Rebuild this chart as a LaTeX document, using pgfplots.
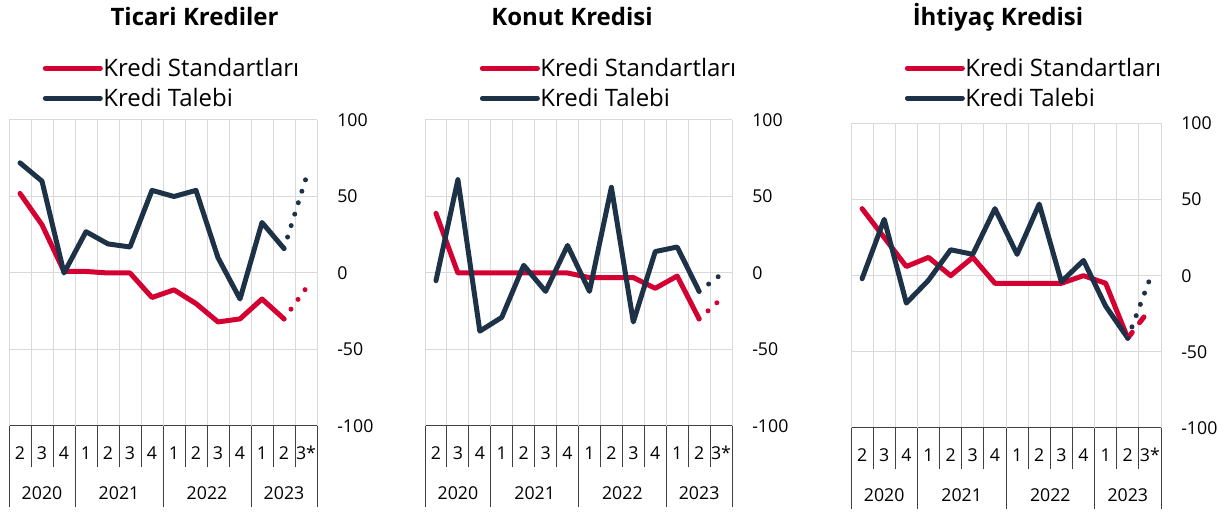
\documentclass[border=0pt]{standalone}
\usepackage{pgfplots}
\pgfplotsset{compat=1.18}
\usepackage{fontspec}
\setmainfont{Open Sans}
\definecolor{kred}{HTML}{D50032}
\definecolor{knavy}{HTML}{1E3247}
\definecolor{kgrid}{HTML}{D9D9D9}
\definecolor{kaxis}{HTML}{404040}

\pgfplotsset{
  kpanel/.style={
    scale only axis,
    xmin=-0.5, xmax=13.5, ymin=-100, ymax=100,
    axis x line*=bottom, axis y line*=right,
    x axis line style={-, kaxis, line width=0.75pt},
    y axis line style={draw=none},
    xtick={-0.5,0.5,...,13.5},
    x tick label as interval,
    xticklabels={2,3,4,1,2,3,4,1,2,3,4,1,2,3*},
    xmajorgrids, ymajorgrids,
    grid style={kgrid, line width=0.75pt},
    ytick={-100,-50,0,50,100},
    yticklabels={-100,-50,0,50,100},
    tick align=outside,
    major tick length=30.75pt,
    xtick style={kaxis, line width=0.75pt},
    ytick style={draw=none},
    ticklabel style={font=\fontsize{13.3}{15}\selectfont},
    xticklabel style={anchor=center, yshift=10.5pt},
    yticklabel style={anchor=west, inner sep=0pt, xshift=-15.75pt},
    extra x ticks={-0.5,2.5,6.5,10.5,13.5},
    extra x tick labels={},
    extra x tick style={major tick length=60.75pt},
    clip=false,
    legend cell align=left,
    legend style={draw=none, fill=none, inner sep=0pt, column sep=0.4pt, row sep=0pt,
      font=\fontsize{18}{21}\selectfont,
      nodes={inner sep=0pt, text height=17.25pt, text depth=5.25pt}},
    legend image code/.code={\draw[##1, line cap=round, solid] (0pt,0pt) -- (41.25pt,0pt);},
  },
  kline/.style={line width=3.75pt, line join=round, line cap=round},
  kdot/.style={line width=3.75pt, line cap=round, dash pattern=on 0pt off 9pt, forget plot},
}

\begin{document}
\begin{tikzpicture}
\useasboundingbox (0,0) rectangle (924pt,384.75pt);

% ---------- Panel 1: Ticari Krediler ----------
\begin{axis}[kpanel, at={(6.75pt,65.25pt)}, anchor=south west, width=231pt, height=229.5pt,
  legend style={at={(axis description cs:0.109,1.219)}, anchor=north west}]
\addplot[kred, kline] coordinates {(0,52) (1,31.5) (2,1) (3,1) (4,0) (5,0) (6,-16) (7,-11) (8,-20) (9,-32) (10,-30) (11,-17) (12,-30)};
\addlegendentry{Kredi Standartları}
\addplot[knavy, kline] coordinates {(0,72) (1,60) (2,0) (3,27) (4,19) (5,17) (6,54) (7,50) (8,54) (9,10) (10,-17) (11,33) (12,16)};
\addlegendentry{Kredi Talebi}
\addplot[kred, kdot] coordinates {(12,-30) (13,-10)};
\addplot[knavy, kdot] coordinates {(12,16) (13,62)};
\node[font=\fontsize{13.3}{15}\selectfont] at (axis cs:1,-100) [yshift=-50.25pt] {2020};
\node[font=\fontsize{13.3}{15}\selectfont] at (axis cs:4.5,-100) [yshift=-50.25pt] {2021};
\node[font=\fontsize{13.3}{15}\selectfont] at (axis cs:8.5,-100) [yshift=-50.25pt] {2022};
\node[font=\fontsize{13.3}{15}\selectfont] at (axis cs:12,-100) [yshift=-50.25pt] {2023};
\end{axis}

% ---------- Panel 2: Konut Kredisi ----------
\begin{axis}[kpanel, at={(318.75pt,65.25pt)}, anchor=south west, width=230.25pt, height=229.5pt,
  legend style={at={(axis description cs:0.178,1.219)}, anchor=north west}]
\addplot[kred, kline] coordinates {(0,39) (1,0) (2,0) (3,0) (4,0) (5,0) (6,0) (7,-3) (8,-3) (9,-3) (10,-10) (11,-2) (12,-30)};
\addlegendentry{Kredi Standartları}
\addplot[knavy, kline] coordinates {(0,-5) (1,61) (2,-38) (3,-29) (4,5) (5,-12) (6,18) (7,-12) (8,56) (9,-32) (10,14) (11,17) (12,-12)};
\addlegendentry{Kredi Talebi}
\addplot[kred, kdot] coordinates {(12,-30) (13,-17)};
\addplot[knavy, kdot] coordinates {(12,-12) (13,-1)};
\node[font=\fontsize{13.3}{15}\selectfont] at (axis cs:1,-100) [yshift=-50.25pt] {2020};
\node[font=\fontsize{13.3}{15}\selectfont] at (axis cs:4.5,-100) [yshift=-50.25pt] {2021};
\node[font=\fontsize{13.3}{15}\selectfont] at (axis cs:8.5,-100) [yshift=-50.25pt] {2022};
\node[font=\fontsize{13.3}{15}\selectfont] at (axis cs:12,-100) [yshift=-50.25pt] {2023};
\end{axis}

% ---------- Panel 3: Ihtiyac Kredisi ----------
\begin{axis}[kpanel, at={(638.25pt,63.75pt)}, anchor=south west, width=232.5pt, height=228.5pt,
  legend style={at={(axis description cs:0.173,1.231)}, anchor=north west}]
\addplot[kred, kline] coordinates {(0,44) (1,25) (2,6) (3,12) (4,0) (5,12) (6,-5) (7,-5) (8,-5) (9,-5) (10,0) (11,-5) (12,-41)};
\addlegendentry{Kredi Standartları}
\addplot[knavy, kline] coordinates {(0,-2) (1,37) (2,-18) (3,-3) (4,17) (5,14) (6,44) (7,14) (8,47) (9,-4) (10,10) (11,-20) (12,-41)};
\addlegendentry{Kredi Talebi}
\addplot[kred, line width=3.75pt, line cap=round, dash pattern=on 5.5pt off 9pt, forget plot] coordinates {(12,-41) (13,-22)};
\addplot[knavy, kdot] coordinates {(12,-41) (13,-2)};
\node[font=\fontsize{13.3}{15}\selectfont] at (axis cs:1,-100) [yshift=-50.25pt] {2020};
\node[font=\fontsize{13.3}{15}\selectfont] at (axis cs:4.5,-100) [yshift=-50.25pt] {2021};
\node[font=\fontsize{13.3}{15}\selectfont] at (axis cs:8.5,-100) [yshift=-50.25pt] {2022};
\node[font=\fontsize{13.3}{15}\selectfont] at (axis cs:12,-100) [yshift=-50.25pt] {2023};
\end{axis}

% ---------- Titles ----------
\node[font=\fontsize{18}{21}\selectfont\bfseries, anchor=base] at (145.9pt,365.25pt) {Ticari Krediler};
\node[font=\fontsize{18}{21}\selectfont\bfseries, anchor=base] at (429pt,365.25pt) {Konut Kredisi};
\node[font=\fontsize{18}{21}\selectfont\bfseries, anchor=base] at (748.5pt,365.25pt) {İhtiyaç Kredisi};
\end{tikzpicture}
\end{document}
